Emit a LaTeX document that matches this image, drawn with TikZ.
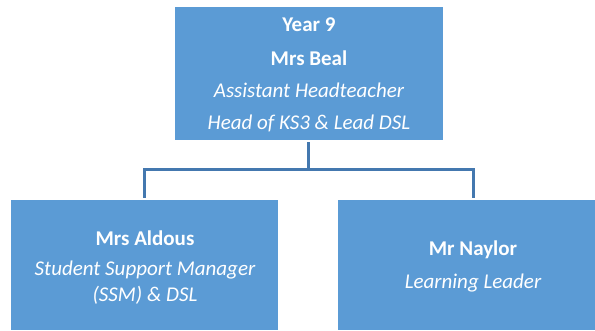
\documentclass[tikz,border=0pt]{standalone}
\usepackage{fontspec}
\setmainfont{Carlito}
\definecolor{boxblue}{HTML}{5B9BD5}
\definecolor{linkblue}{RGB}{68,120,175}
\begin{document}
\begin{tikzpicture}[x=1pt,y=1pt,
  box/.style={fill=boxblue,draw=none,inner sep=0pt},
  txt/.style={text=white,font=\fontsize{21}{25}\selectfont,inner sep=0pt,anchor=center},
  link/.style={draw=linkblue,line width=3pt}]
\useasboundingbox (0,0) rectangle (595,-330);
% boxes
\node[box,minimum width=268pt,minimum height=133pt] (top) at (309,-73.5) {};
\node[box,minimum width=267pt,minimum height=130pt] (left) at (144.5,-265) {};
\node[box,minimum width=257pt,minimum height=130pt] (right) at (466.5,-265) {};
% texts
\node[txt] (t1) at (309,-25) {\bfseries Year 9};
\node[txt] (t2) at (309,-58) {\bfseries Mrs Beal};
\node[txt] (t3) at (309,-90) {\itshape Assistant Headteacher};
\node[txt] (t4) at (309,-123) {\itshape Head of KS3 \& Lead DSL};
\node[txt] (l1) at (145,-238) {\bfseries Mrs Aldous};
\node[txt] (l2) at (145,-270) {\itshape Student Support Manager};
\node[txt] (l3) at (145,-295) {\itshape (SSM) \& DSL};
\node[txt] (r1) at (473,-250) {\bfseries Mr Naylor};
\node[txt] (r2) at (473,-283) {\itshape Learning Leader};
% connectors
\coordinate (jt) at ([xshift=-0.5pt,yshift=-2pt]top.south);
\coordinate (jl) at ([yshift=2pt]left.north);
\coordinate (jr) at ([xshift=6.5pt,yshift=2pt]right.north);
\coordinate (mid) at (308.5,-169.5);
\draw[link] (jt) -- (mid);
\draw[link] (jl) |- (mid) -| (jr);
\end{tikzpicture}
\end{document}
